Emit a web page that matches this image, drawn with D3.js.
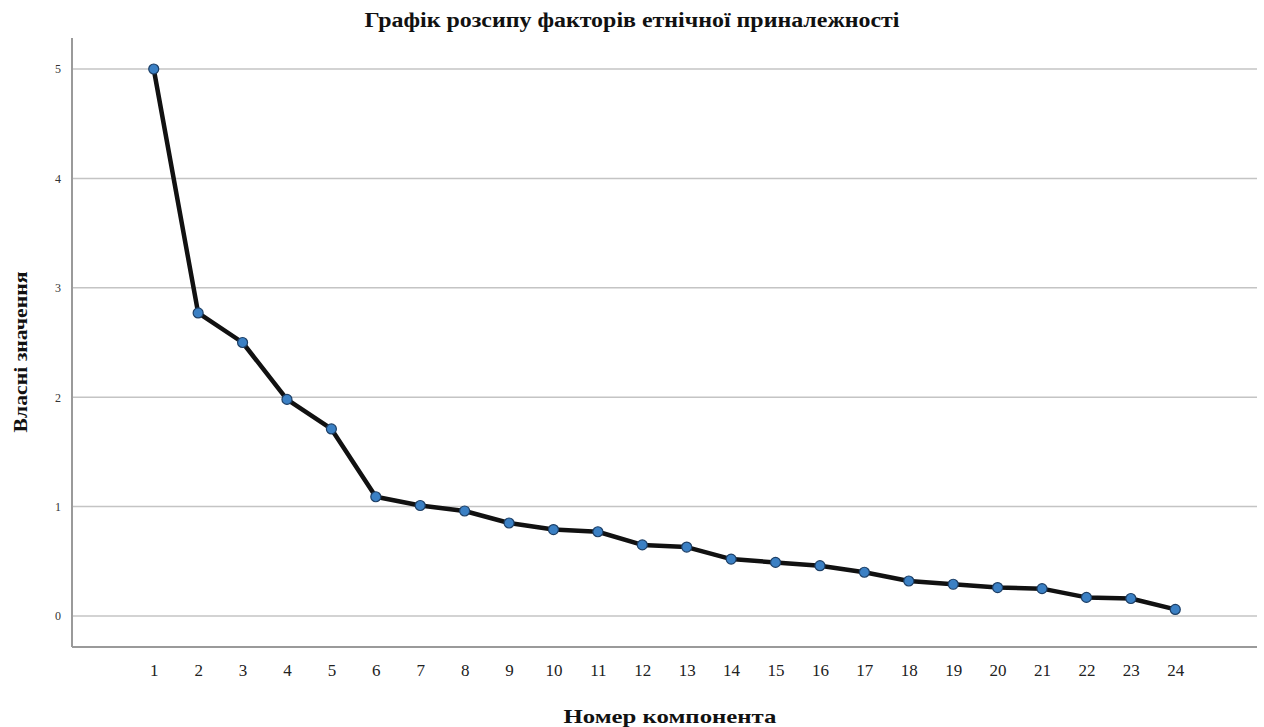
<!DOCTYPE html>
<html>
<head>
<meta charset="utf-8">
<script src="https://cdn.jsdelivr.net/npm/d3@7"></script>
<style>
  html, body { margin: 0; padding: 0; background: #fff; }
  svg { display: block; }
</style>
</head>
<body>
<svg id="chart" width="1264" height="727"></svg>
<script>
// Component numbers and their eigenvalues
const components = d3.range(1, 25);
const eigenvalues = [5.00, 2.77, 2.50, 1.98, 1.71, 1.09, 1.01, 0.96, 0.85, 0.79, 0.77, 0.65,
                     0.63, 0.52, 0.49, 0.46, 0.40, 0.32, 0.29, 0.26, 0.25, 0.17, 0.16, 0.06];
const yTicks = [0, 1, 2, 3, 4, 5];

const titleText = "Графік розсипу факторів етнічної приналежності";
const xLabel = "Номер компонента";
const yLabel = "Власні значення";

const svg = d3.select("#chart");
const plotLeft = 72, plotRight = 1257, plotTop = 38, plotBottom = 647;
const serif = "'Liberation Serif', 'DejaVu Serif', serif";

const x = d3.scalePoint()
  .domain(components)
  .range([plotLeft, plotRight])
  .padding(1.84);

const y = d3.scaleLinear()
  .domain([0, 5])
  .range([616, 69]);

// horizontal gridlines
svg.append("g")
  .selectAll("line")
  .data(yTicks)
  .join("line")
  .attr("x1", plotLeft).attr("x2", plotRight)
  .attr("y1", d => y(d)).attr("y2", d => y(d))
  .attr("stroke", "#c4c4c4")
  .attr("stroke-width", 1.5);

// y axis
const yAxis = svg.append("g")
  .attr("transform", `translate(${plotLeft},0)`)
  .call(d3.axisLeft(y).tickValues(yTicks).tickSize(0).tickPadding(11).tickFormat(d3.format("d")));
yAxis.select(".domain").remove();
yAxis.selectAll("text")
  .attr("font-family", serif)
  .attr("font-size", 12)
  .attr("fill", "#333");

// x axis
const xAxis = svg.append("g")
  .attr("transform", `translate(0,${plotBottom})`)
  .call(d3.axisBottom(x).tickSize(0).tickPadding(17));
xAxis.select(".domain").remove();
xAxis.selectAll("text")
  .attr("font-family", serif)
  .attr("font-size", 17)
  .attr("fill", "#222");

// frame lines (left and bottom)
svg.append("line")
  .attr("x1", plotLeft).attr("x2", plotLeft).attr("y1", plotTop).attr("y2", plotBottom)
  .attr("stroke", "#9a9a9a").attr("stroke-width", 2);
svg.append("line")
  .attr("x1", plotLeft).attr("x2", plotRight).attr("y1", plotBottom).attr("y2", plotBottom)
  .attr("stroke", "#9a9a9a").attr("stroke-width", 2);

const pts = components.map((c, i) => ({ c, v: eigenvalues[i] }));

// scree line
svg.append("path")
  .datum(pts)
  .attr("fill", "none")
  .attr("stroke", "#111")
  .attr("stroke-width", 4.5)
  .attr("stroke-linejoin", "round")
  .attr("d", d3.line().x(d => x(d.c)).y(d => y(d.v)));

// markers
svg.append("g")
  .selectAll("circle")
  .data(pts)
  .join("circle")
  .attr("cx", d => x(d.c))
  .attr("cy", d => y(d.v))
  .attr("r", 5)
  .attr("fill", "#3b80c4")
  .attr("stroke", "#1d3f66")
  .attr("stroke-width", 1.2);

// title
svg.append("text")
  .attr("x", 632).attr("y", 27)
  .attr("text-anchor", "middle")
  .attr("font-family", serif)
  .attr("font-weight", "bold")
  .attr("font-size", 20)
  .attr("textLength", 535)
  .attr("lengthAdjust", "spacingAndGlyphs")
  .attr("fill", "#111")
  .text(titleText);

// x axis title
svg.append("text")
  .attr("x", 670).attr("y", 723)
  .attr("text-anchor", "middle")
  .attr("font-family", serif)
  .attr("font-weight", "bold")
  .attr("font-size", 19)
  .attr("textLength", 213)
  .attr("lengthAdjust", "spacingAndGlyphs")
  .attr("fill", "#111")
  .text(xLabel);

// y axis title
svg.append("text")
  .attr("transform", "translate(27,352) rotate(-90)")
  .attr("text-anchor", "middle")
  .attr("font-family", serif)
  .attr("font-weight", "bold")
  .attr("font-size", 19)
  .attr("textLength", 161)
  .attr("lengthAdjust", "spacingAndGlyphs")
  .attr("fill", "#111")
  .text(yLabel);
</script>
</body>
</html>
